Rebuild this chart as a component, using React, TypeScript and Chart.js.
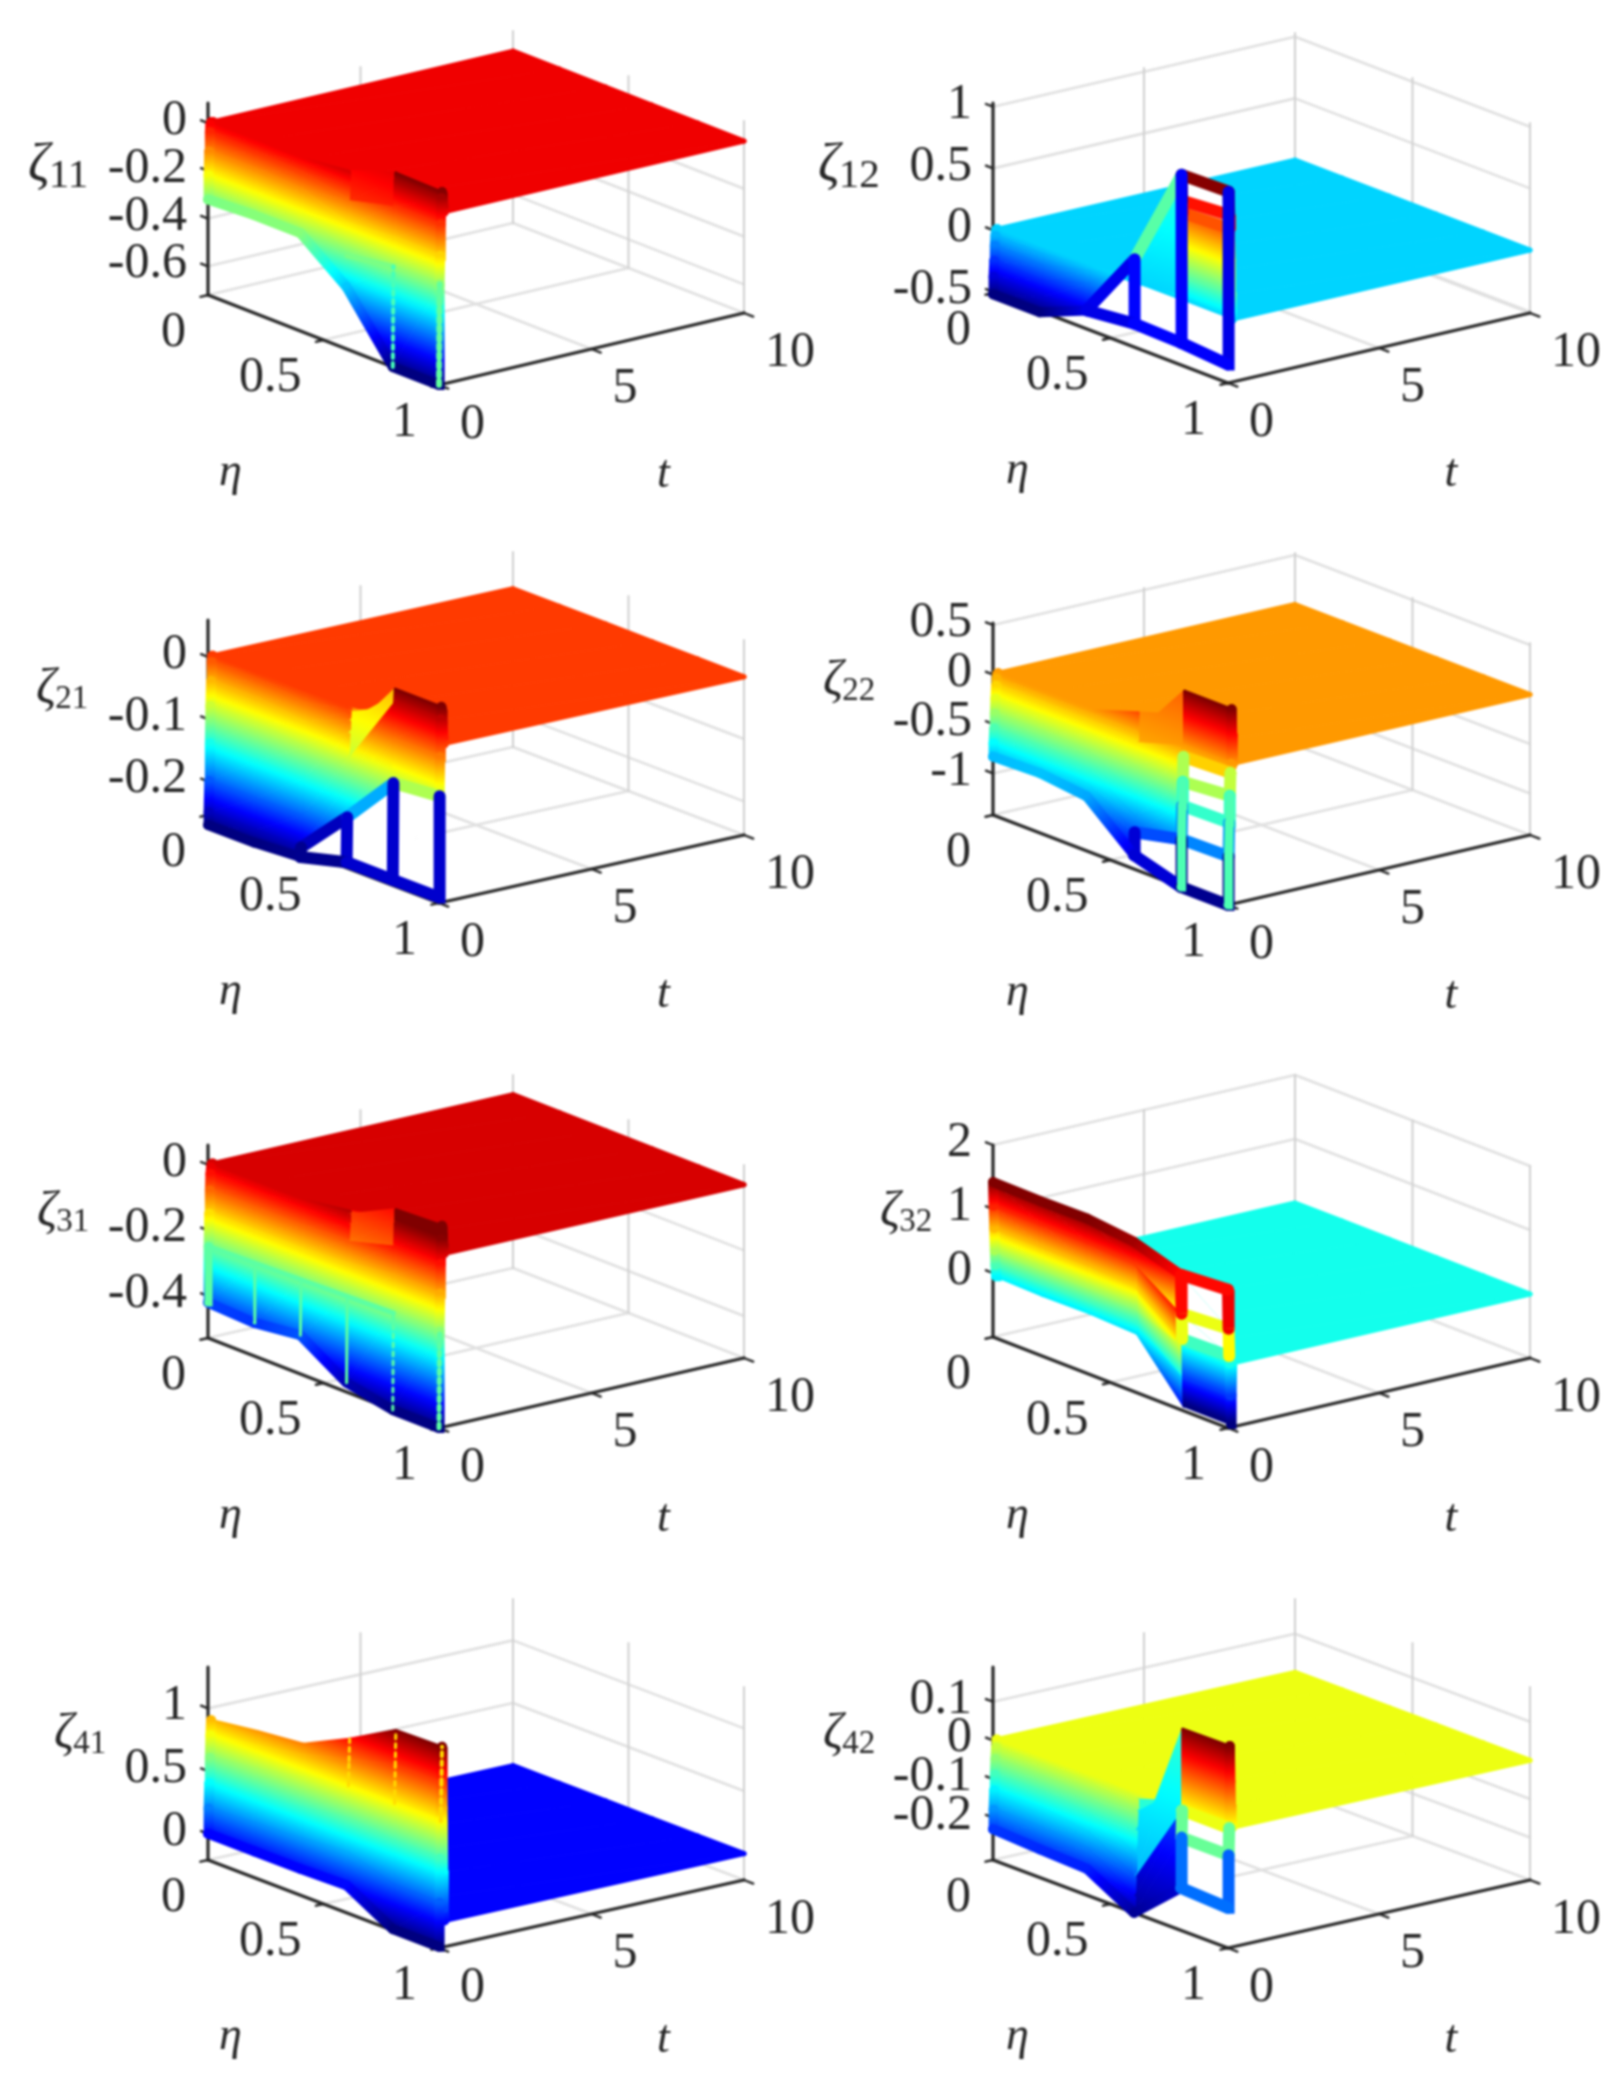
import { useEffect, useRef } from 'react';
import Chart from 'chart.js/auto';

const etaGrid = [0, 0.2, 0.4, 0.6, 0.8, 1];
const tRows = [0, 0.02, 0.04, 0.06, 0.08, 0.1, 0.12, 0.14, 0.16, 0.18, 0.2];
const tEnd = 10;
const etaTicks = [0, 0.5, 1];
const tTicks = [0, 5, 10];

// surface rows: one row per t, one value per eta
const zeta11 = [
  [-0.32, -0.31, -0.31, -0.46, -0.72, -0.72],
  [-0.22, -0.22, -0.22, -0.33, -0.3, -0.3],
  [-0.12, -0.12, -0.13, -0.2, -0.18, -0.18],
  [-0.04, -0.05, -0.06, -0.1, -0.05, -0.05],
  [-0.01, -0.01, -0.02, -0.03, 0.06, 0.06],
  [0, 0, 0, 0.02, 0.089, 0.085],
  [0, 0, 0, 0.01, 0.06, 0.07],
  [0, 0, 0, 0, 0.02, 0.03],
  [0, 0, 0, 0, 0, 0],
];
const zeta12 = [
  [-0.52, -0.52, -0.36, -0.32, -0.33, -0.36],
  [-0.38, -0.4, -0.35, 0.2, 1.03, 1.04],
  [-0.25, -0.27, -0.15, 0.12, 0.82, 0.85],
  [-0.13, -0.15, -0.05, 0.06, 0.72, 0.74],
  [-0.05, -0.06, -0.01, 0.03, 0.45, 0.48],
  [-0.01, -0.02, 0, 0.01, 0.2, 0.22],
  [0, 0, 0, 0, 0.06, 0.07],
  [0, 0, 0, 0, 0, 0],
];
const zeta21 = [
  [-0.27, -0.27, -0.265, -0.245, -0.245, -0.245],
  [-0.25, -0.25, -0.25, -0.173, -0.09, -0.083],
  [-0.2, -0.2, -0.2, -0.12, -0.02, -0.02],
  [-0.14, -0.14, -0.14, -0.08, 0.04, 0.04],
  [-0.08, -0.08, -0.09, -0.04, 0.06, 0.06],
  [-0.04, -0.04, -0.05, -0.02, 0.05, 0.055],
  [-0.01, -0.01, -0.02, -0.005, 0.03, 0.035],
  [0, 0, -0.005, 0, 0.01, 0.012],
  [0, 0, 0, 0, 0, 0],
];
const zeta22 = [
  [-0.83, -0.815, -0.87, -1.28, -1.42, -1.42],
  [-0.7, -0.7, -0.75, -1.05, -0.94, -0.93],
  [-0.55, -0.55, -0.6, -0.9, -0.6, -0.59],
  [-0.4, -0.4, -0.42, -0.7, -0.36, -0.32],
  [-0.25, -0.25, -0.25, -0.4, -0.11, -0.09],
  [-0.12, -0.12, -0.12, -0.15, 0, 0],
  [-0.05, -0.05, -0.05, -0.05, 0.55, 0.55],
  [-0.01, -0.01, -0.01, 0.15, 0.3, 0.3],
  [0, 0, 0, 0.02, 0.1, 0.1],
  [0, 0, 0, 0, 0, 0],
];
const zeta31 = [
  [-0.42, -0.427, -0.41, -0.5, -0.528, -0.528],
  [-0.25, -0.25, -0.245, -0.24, -0.233, -0.235],
  [-0.15, -0.15, -0.15, -0.14, -0.12, -0.12],
  [-0.08, -0.08, -0.08, -0.07, -0.03, -0.03],
  [-0.03, -0.03, -0.03, -0.02, 0.04, 0.045],
  [-0.01, -0.01, -0.01, 0.01, 0.08, 0.086],
  [0, 0, 0, 0.02, 0.05, 0.06],
  [0, 0, 0, 0.005, 0.02, 0.03],
  [0, 0, 0, 0, 0, 0],
];
const zeta32 = [
  [1.42, 1.41, 1.42, 1.34, 1.11, 1.16],
  [1.05, 1.05, 1.05, 1, 0.5, 0.55],
  [0.7, 0.7, 0.7, 0.65, 0.1, 0.12],
  [0.35, 0.35, 0.35, 0.3, 0, 0],
  [0.12, 0.12, 0.12, 0.08, -0.5, -0.5],
  [-0.06, -0.08, -0.07, -0.1, -0.95, -0.95],
  [-0.03, -0.03, -0.03, -0.03, -0.5, -0.5],
  [0, 0, 0, 0, 0, 0],
];
const zeta41 = [
  [0, 0, 0, 0.01, -0.2, -0.2],
  [0.2, 0.22, 0.24, 0.27, 0.15, 0.15],
  [0.4, 0.43, 0.48, 0.54, 0.5, 0.5],
  [0.6, 0.65, 0.72, 0.8, 0.8, 0.8],
  [0.78, 0.83, 0.9, 1, 1.1, 1.1],
  [0.9, 0.95, 0.99, 1.17, 1.38, 1.39],
  [0.6, 0.6, 0.6, 0.7, 0.9, 0.9],
  [0.3, 0.3, 0.3, 0.3, 0.4, 0.4],
  [0.1, 0.1, 0.1, 0.1, 0.1, 0.1],
  [0, 0, 0, 0, 0, 0],
];
const zeta42 = [
  [-0.23, -0.237, -0.242, -0.31, -0.2, -0.206],
  [-0.18, -0.18, -0.19, -0.27, -0.07, -0.07],
  [-0.13, -0.13, -0.15, -0.22, 0, 0],
  [-0.09, -0.09, -0.1, -0.16, 0.21, 0.212],
  [-0.05, -0.05, -0.06, -0.1, 0.12, 0.12],
  [-0.02, -0.02, -0.02, -0.05, 0.06, 0.06],
  [0, 0, 0, -0.02, 0.02, 0.02],
  [0, 0, 0, 0, 0, 0],
];

const leftCol = { x0: 208, ex: 231, tx: 305 };
const rightCol = { x0: 183, ex: 235, tx: 302 };

type Panel = {
  name: string; sub: string; subSize: number; zetaSize: number; labelX: number; labelY: number;
  col: typeof leftCol; top: number; floor: number; ey: number; ty: number; h: number;
  zlim: number[]; clim: number[]; zTicks: number[]; rows: number[][]; steady: number;
  open: number[][]; mute: number[][]; tints: any[][]; rungs: number[][];
};

// open = mesh cells that show only their white face
// mute = [row, strip, colour factor, colour offset, extra offset on the right edge]
//        for faces whose colour is not their height
// tints = [row, eta index, colour value, width, dashed] for t edges with their own colour
// rungs = [row, first eta index, last eta index, colour value, width] for such eta edges
const panels: Panel[] = [
  { name: 'zeta11', sub: '11', subSize: 41, zetaSize: 54, labelX: 28, labelY: 167, col: leftCol, top: 0, floor: 295, ey: 90, ty: -72, h: 192,
    zlim: [-0.72, 0.084], clim: [-0.72, 0.089], zTicks: [0, -0.2, -0.4, -0.6], rows: zeta11, steady: 0, open: [],
    mute: [[3, 3, 0.3, -0.02], [4, 3, 0.3, -0.02], [5, 3, 0.3, -0.02], [6, 3, 0.3, -0.02]],
    tints: [[0, 4, -0.36, 4, true], [0, 5, -0.34, 6, true]], rungs: [[1, 3, 4, -0.32, 5]] },
  { name: 'zeta12', sub: '12', subSize: 41, zetaSize: 54, labelX: 8, labelY: 167, col: rightCol, top: 0, floor: 293, ey: 90, ty: -70, h: 190,
    zlim: [-0.51, 1.03], clim: [-0.52, 1.04], zTicks: [1, 0.5, 0, -0.5], rows: zeta12, steady: 0,
    open: [[0, 2], [0, 3], [0, 4], [1, 4], [2, 4]],
    mute: [[1, 3, 0.12, 0], [2, 3, 0.12, 0], [3, 3, 0.12, 0], [4, 3, 0.12, 0], [5, 3, 0.12, 0]], tints: [], rungs: [] },
  { name: 'zeta21', sub: '21', subSize: 33, zetaSize: 50, labelX: 36, labelY: 160, col: leftCol, top: 530, floor: 285, ey: 88, ty: -68, h: 195,
    zlim: [-0.254, 0.059], clim: [-0.27, 0.06], zTicks: [0, -0.1, -0.2], rows: zeta21, steady: 0,
    open: [[0, 2], [0, 3], [0, 4]],
    mute: [[3, 3, 0.3, -0.06], [4, 3, 0.3, -0.06], [5, 3, 0.3, -0.06], [6, 3, 0.3, -0.03]], tints: [], rungs: [] },
  { name: 'zeta22', sub: '22', subSize: 33, zetaSize: 50, labelX: 13, labelY: 152, col: rightCol, top: 530, floor: 285, ey: 90, ty: -70, h: 192,
    zlim: [-1.42, 0.52], clim: [-1.45, 0.55], zTicks: [0.5, 0, -0.5, -1], rows: zeta22, steady: 0,
    open: [[0, 3], [0, 4], [1, 4], [2, 4], [3, 4]],
    mute: [[5, 3, 0.2, 0], [6, 3, 0.2, 0], [7, 3, 0.2, 0], [8, 3, 0.2, 0]],
    tints: [[0, 4, -0.55, 9, false], [1, 4, -0.55, 9, false], [2, 4, -0.55, 9, false], [0, 5, -0.55, 9, false], [1, 5, -0.55, 9, false], [2, 5, -0.55, 9, false]], rungs: [] },
  { name: 'zeta31', sub: '31', subSize: 33, zetaSize: 50, labelX: 37, labelY: 163, col: leftCol, top: 1050, floor: 288, ey: 90, ty: -70, h: 193,
    zlim: [-0.528, 0.06], clim: [-0.53, 0.05], zTicks: [0, -0.2, -0.4], rows: zeta31, steady: 0, open: [],
    mute: [[3, 3, 0.4, -0.06], [4, 3, 0.4, -0.06], [5, 3, 0.4, -0.06], [6, 3, 0.4, -0.03]],
    tints: [[0, 0, -0.26, 8, false], [0, 1, -0.26, 3, false], [0, 2, -0.26, 3, false], [0, 3, -0.26, 3, false], [0, 4, -0.26, 3, true], [0, 5, -0.26, 5, true]],
    rungs: [[1, 0, 4, -0.26, 5]] },
  { name: 'zeta32', sub: '32', subSize: 33, zetaSize: 50, labelX: 70, labelY: 163, col: rightCol, top: 1050, floor: 287, ey: 91, ty: -70, h: 192,
    zlim: [-1, 2], clim: [-0.92, 1.42], zTicks: [2, 1, 0], rows: zeta32, steady: 0, open: [[0, 4], [1, 4]],
    mute: [[1, 3, 1, 0, 0.6], [2, 3, 1, 0, 0.6], [3, 3, 1, 0, 0.5], [4, 3, 1, 0, 0.35]], tints: [], rungs: [] },
  { name: 'zeta41', sub: '41', subSize: 33, zetaSize: 50, labelX: 54, labelY: 165, col: leftCol, top: 1570, floor: 290, ey: 88, ty: -68, h: 193,
    zlim: [-0.21, 1.33], clim: [-0.2, 1.39], zTicks: [1, 0.5, 0], rows: zeta41, steady: 0, open: [], mute: [],
    tints: [[3, 3, 0.85, 3, true], [4, 3, 0.85, 3, true], [3, 4, 0.85, 3, true], [4, 4, 0.85, 3, true], [3, 5, 0.85, 4, true], [4, 5, 0.85, 4, true]], rungs: [] },
  { name: 'zeta42', sub: '42', subSize: 33, zetaSize: 50, labelX: 13, labelY: 165, col: rightCol, top: 1570, floor: 290, ey: 88, ty: -68, h: 193,
    zlim: [-0.31, 0.19], clim: [-0.325, 0.21], zTicks: [0.1, 0, -0.1, -0.2], rows: zeta42, steady: 0, open: [[0, 4], [1, 4]],
    mute: [[0, 3, 0.3, -0.22], [1, 3, 0.3, -0.22], [2, 3, 0.15, -0.13], [3, 3, 0.15, -0.13], [4, 3, 0.15, -0.13], [5, 3, 0.15, -0.1]], tints: [], rungs: [] },
];

const clamp01 = (v: number) => Math.min(1, Math.max(0, v));

function jet(v: number) {
  const u = clamp01(v);
  const r = clamp01(1.5 - Math.abs(4 * u - 3));
  const g = clamp01(1.5 - Math.abs(4 * u - 2));
  const b = clamp01(1.5 - Math.abs(4 * u - 1));
  return `rgb(${Math.round(r * 255)},${Math.round(g * 255)},${Math.round(b * 255)})`;
}

function project(p: Panel, eta: number, t: number, z: number) {
  const nz = (z - p.zlim[0]) / (p.zlim[1] - p.zlim[0]);
  return {
    x: p.col.x0 + eta * p.col.ex + (t / tEnd) * p.col.tx,
    y: p.floor + eta * p.ey + (t / tEnd) * p.ty - nz * p.h,
  };
}

// options can be read before the first layout, when the scales have no pixels yet
const toPixels = (chart: any, pt: { x: number; y: number }) => {
  const x = chart.scales.x.getPixelForValue(pt.x);
  const y = chart.scales.y.getPixelForValue(pt.y);
  return { x: Number.isFinite(x) ? x : pt.x, y: Number.isFinite(y) ? y : pt.y };
};

function paintRamp(chart: any, a: any, b: any, ca: number, cb: number, p: Panel) {
  const range = p.clim[1] - p.clim[0];
  const g = chart.ctx.createLinearGradient(a.x, a.y, b.x, b.y);
  for (let s = 0; s <= 16; s++) {
    const c = ca + ((cb - ca) * s) / 16;
    g.addColorStop(s / 16, jet((c - p.clim[0]) / range));
  }
  return g;
}

// colour of a triangle is linear in screen space, so one gradient is exact
function triangleShade(chart: any, verts: any[], p: Panel) {
  const [v0, v1, v2] = verts.map((v) => ({ ...toPixels(chart, v), c: v.c }));
  const det = (v1.x - v0.x) * (v2.y - v0.y) - (v2.x - v0.x) * (v1.y - v0.y);
  const range = p.clim[1] - p.clim[0];
  if (Math.abs(det) < 1e-6) return jet((v0.c - p.clim[0]) / range);
  const gx = ((v1.c - v0.c) * (v2.y - v0.y) - (v2.c - v0.c) * (v1.y - v0.y)) / det;
  const gy = ((v2.c - v0.c) * (v1.x - v0.x) - (v1.c - v0.c) * (v2.x - v0.x)) / det;
  const g2 = gx * gx + gy * gy;
  const sorted = [v0, v1, v2].sort((a, b) => a.c - b.c);
  const low = sorted[0];
  const high = sorted[2];
  if (g2 < 1e-14 || high.c - low.c < 1e-9) return jet((low.c - p.clim[0]) / range);
  const k = (high.c - low.c) / g2;
  return paintRamp(chart, low, { x: low.x + gx * k, y: low.y + gy * k }, low.c, high.c, p);
}

const lineSet = (a: any, b: any, color: any, width: number, dash: number[] = []) => ({
  data: [{ x: a.x, y: a.y }, { x: b.x, y: b.y }],
  showLine: true,
  pointRadius: 0,
  borderColor: color,
  borderWidth: width,
  borderDash: dash,
  borderCapStyle: 'round',
});

function buildDatasets(p: Panel) {
  const list: any[] = [];
  const grid = '#e0e0e0';
  const wall = '#d0d0d0';
  const axis = '#262626';
  const [zBottom, zTop] = p.zlim;

  // box grid
  tTicks.forEach((t) => {
    list.push(lineSet(project(p, 0, t, zBottom), project(p, 1, t, zBottom), grid, 2.6));
  });
  etaTicks.forEach((eta) => {
    list.push(lineSet(project(p, eta, 0, zBottom), project(p, eta, tEnd, zBottom), grid, 2.6));
  });
  p.zTicks.forEach((z) => {
    list.push(lineSet(project(p, 0, 0, z), project(p, 0, tEnd, z), grid, 2.6));
    list.push(lineSet(project(p, 0, tEnd, z), project(p, 1, tEnd, z), grid, 2.6));
  });
  tTicks.slice(1).forEach((t) => {
    list.push(lineSet(project(p, 0, t, zBottom), project(p, 0, t, zTop), wall, 2));
  });
  etaTicks.slice(1).forEach((eta) => {
    list.push(lineSet(project(p, eta, tEnd, zBottom), project(p, eta, tEnd, zTop), wall, 2));
  });

  // axes and tick stubs
  list.push(lineSet(project(p, 0, 0, zBottom), project(p, 0, 0, zTop), axis, 3.2));
  list.push(lineSet(project(p, 0, 0, zBottom), project(p, 1, 0, zBottom), axis, 3.2));
  list.push(lineSet(project(p, 1, 0, zBottom), project(p, 1, tEnd, zBottom), axis, 3.2));
  p.zTicks.forEach((z) => {
    list.push(lineSet(project(p, 0, 0, z), project(p, -0.03, 0, z), axis, 2.4));
  });
  etaTicks.forEach((eta) => {
    list.push(lineSet(project(p, eta, 0, zBottom), project(p, eta, -0.25, zBottom), axis, 2.4));
  });
  tTicks.forEach((t) => {
    list.push(lineSet(project(p, 1, t, zBottom), project(p, 1.04, t, zBottom), axis, 2.4));
  });

  // surface
  const rows = [...p.rows, etaGrid.map(() => p.steady)];
  const times = [...tRows.slice(0, p.rows.length), tEnd];
  const last = rows.length - 1;
  const isOpen = (k: number, i: number) => p.open.some((o) => o[0] === k && o[1] === i);
  const muteOf = (k: number, i: number) => p.mute.find((o) => o[0] === k && o[1] === i);
  const vertex = (k: number, i: number, m?: number[], right = false) => {
    const z = rows[k][i];
    const c = m ? p.steady + m[3] + (z - p.steady) * m[2] + (right ? m[4] || 0 : 0) : z;
    return { ...project(p, etaGrid[i], times[k], z), c };
  };
  const flat = (c: number) => jet((c - p.clim[0]) / (p.clim[1] - p.clim[0]));
  const tri = (a: any, b: any, c: any) => ({
    data: [a, b, c, a].map((v) => ({ x: v.x, y: v.y })),
    showLine: true,
    fill: 'shape',
    pointRadius: 0,
    borderWidth: 1,
    backgroundColor: (ctx: any) => triangleShade(ctx.chart, [a, b, c], p),
    borderColor: (ctx: any) => triangleShade(ctx.chart, [a, b, c], p),
  });
  const whiteTri = (a: any, b: any, c: any) => ({
    data: [a, b, c, a].map((v) => ({ x: v.x, y: v.y })),
    showLine: true,
    fill: 'shape',
    pointRadius: 0,
    borderWidth: 0,
    backgroundColor: '#ffffff',
  });
  const ramp = (a: any, b: any, width: number) =>
    lineSet(a, b, (ctx: any) => paintRamp(ctx.chart, toPixels(ctx.chart, a), toPixels(ctx.chart, b), a.c, b.c, p), width);

  const paintRow = (k: number) => {
    const tail = k >= last - 1;
    if (k < last) {
      for (let i = 0; i < etaGrid.length - 1; i++) {
        if (isOpen(k, i)) continue;
        const m = muteOf(k, i);
        const a = vertex(k, i, m);
        const b = vertex(k, i + 1, m, true);
        const c = vertex(k + 1, i + 1, m, true);
        const d = vertex(k + 1, i, m);
        list.push(tri(a, b, c), tri(a, c, d));
      }
      for (let i = 0; i < etaGrid.length; i++) {
        const a = vertex(k, i);
        const b = vertex(k + 1, i);
        const outer = i === 0 || i === etaGrid.length - 1;
        // a t edge touching a white face keeps the flat colour of its first vertex
        if (isOpen(k, i - 1) || isOpen(k, i)) {
          list.push(lineSet(a, b, flat(a.c), 12));
        } else {
          list.push(ramp(a, b, tail ? 5 : outer ? 10 : 3));
        }
      }
    }
    for (let i = 0; i < etaGrid.length - 1; i++) {
      if (isOpen(k, i) || isOpen(k - 1, i)) {
        list.push(lineSet(vertex(k, i), vertex(k, i + 1), flat(rows[k][i]), 12));
      } else {
        const m = muteOf(k, i) || muteOf(k - 1, i);
        const width = k === last ? 5 : k === 0 ? 10 : 3;
        list.push(ramp(vertex(k, i, m), vertex(k, i + 1, m, true), width));
      }
    }
  };

  // far plane, then the white mesh faces, then the walls from far to near
  paintRow(last);
  paintRow(last - 1);
  p.open.forEach(([k, i]) => {
    const a = vertex(k, i);
    const b = vertex(k, i + 1);
    const c = vertex(k + 1, i + 1);
    const d = vertex(k + 1, i);
    list.push(whiteTri(a, b, c), whiteTri(a, c, d));
  });
  for (let k = last - 2; k >= 0; k--) paintRow(k);

  p.rungs.forEach(([k, from, to, c, width]) => {
    list.push(lineSet(vertex(k, from), vertex(k, to), flat(c), width));
  });
  p.tints.forEach(([k, i, c, width, dashed]) => {
    list.push(lineSet(vertex(k, i), vertex(k + 1, i), flat(c), width, dashed ? [4, 5] : []));
  });

  // the chart paints the last dataset first
  return list.reverse();
}

const labelPlugin = (p: Panel) => ({
  id: 'boxLabels',
  afterDraw(chart: any) {
    const { ctx } = chart;
    const zBottom = p.zlim[0];
    const put = (text: string, pt: any, dx: number, dy: number, align: CanvasTextAlign) => {
      const px = toPixels(chart, pt);
      ctx.textAlign = align;
      ctx.fillText(text, px.x + dx, px.y + dy);
    };
    ctx.save();
    ctx.fillStyle = '#262626';
    ctx.textBaseline = 'middle';
    ctx.font = '50px "Liberation Serif"';
    p.zTicks.forEach((z) => put(String(z), project(p, 0, 0, z), -21, -2, 'right'));
    etaTicks.forEach((eta) => put(String(eta), project(p, eta, 0, zBottom), -22, 38, 'right'));
    tTicks.forEach((t) => put(String(t), project(p, 1, t, zBottom), 21, 40, 'left'));
    ctx.font = 'italic 46px "Liberation Serif"';
    put('η', project(p, 0.5, 0, zBottom), -93, 133, 'center');
    put('t', project(p, 1, 5, zBottom), 72, 126, 'center');
    ctx.textAlign = 'left';
    ctx.font = `italic ${p.zetaSize}px "Liberation Serif"`;
    ctx.fillText('ζ', p.labelX, p.labelY);
    const w = ctx.measureText('ζ').width;
    ctx.font = `${p.subSize}px "Liberation Serif"`;
    ctx.fillText(p.sub, p.labelX + w - 1, p.labelY + 9);
    ctx.restore();
  },
});

const PanelChart = ({ panel, left }: { panel: Panel; left: number }) => {
  const canvasRef = useRef<HTMLCanvasElement | null>(null);

  useEffect(() => {
    if (!canvasRef.current) return;
    const chart = new Chart(canvasRef.current, {
      type: 'scatter',
      data: { datasets: buildDatasets(panel) },
      options: {
        animation: false,
        responsive: false,
        devicePixelRatio: 1,
        events: [],
        layout: { padding: 0 },
        plugins: { legend: { display: false }, tooltip: { enabled: false } },
        scales: {
          x: { type: 'linear', display: false, min: 0, max: 900 },
          y: { type: 'linear', display: false, min: 0, max: 520, reverse: true },
        },
      },
      plugins: [labelPlugin(panel)],
    } as any);
    return () => chart.destroy();
  }, [panel]);

  return (
    <canvas
      ref={canvasRef}
      width={900}
      height={520}
      style={{ position: 'absolute', left, top: panel.top, width: 900, height: 520, filter: 'blur(1.1px)' }}
    />
  );
};

export default function App() {
  return (
    <div style={{ position: 'absolute', left: 0, top: 0, width: 1620, height: 2087, overflow: 'hidden', background: '#fff' }}>
      {panels.map((panel) => (
        <PanelChart key={panel.name} panel={panel} left={panel.col === leftCol ? 0 : 810} />
      ))}
    </div>
  );
}
